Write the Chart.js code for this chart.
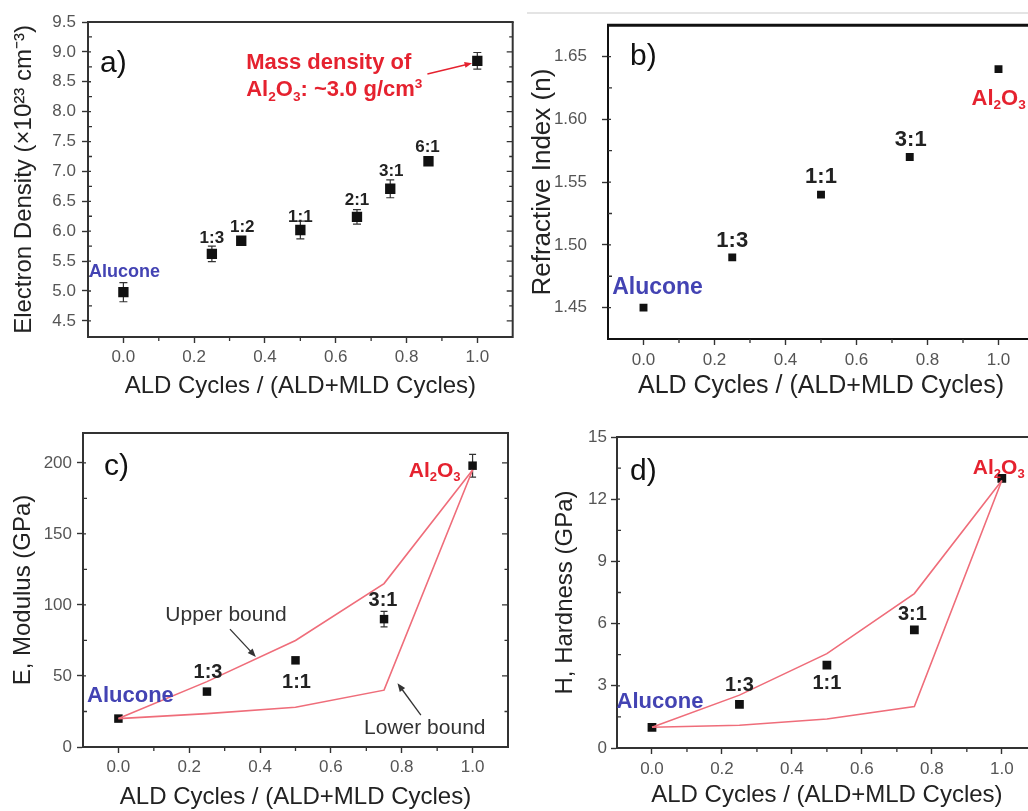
<!DOCTYPE html>
<html><head><meta charset="utf-8">
<script src="https://cdn.jsdelivr.net/npm/chart.js@4"></script>
<style>
html,body{margin:0;padding:0;background:#fff;width:1028px;height:811px;overflow:hidden;position:relative}
#wrap{position:absolute;left:0;top:0;width:1100px;height:830px}
canvas{position:absolute;display:block}
#sep{position:absolute;left:527px;top:12px;width:501px;height:2px;background:#e4e4e4}
</style></head><body>
<div id="wrap">
<div id="sep"></div>
<canvas id="ca" width="520" height="405" style="left:0;top:0;width:520px;height:405px"></canvas>
<canvas id="cb" width="520" height="405" style="left:520px;top:0;width:520px;height:405px"></canvas>
<canvas id="cc" width="520" height="410" style="left:0;top:405px;width:520px;height:410px"></canvas>
<canvas id="cd" width="523" height="410" style="left:520px;top:405px;width:523px;height:410px"></canvas>
</div>
<script>
const FONT = "'Liberation Sans', Arial, sans-serif";

// ---------- shared x axis ----------
const xTicks = [0, 0.2, 0.4, 0.6, 0.8, 1.0];
const xMinorTicks = [0.1, 0.3, 0.5, 0.7, 0.9];
const xTitle = 'ALD Cycles / (ALD+MLD Cycles)';

// ---------- a) electron density ----------
const aRatio = [0, 0.25, 0.333, 0.5, 0.66, 0.754, 0.862, 1.0];
const aDensity = [4.98, 5.62, 5.84, 6.02, 6.24, 6.71, 7.17, 8.85];
const aDensityErr = [0.16, 0.13, 0.05, 0.15, 0.12, 0.15, 0.05, 0.14];
const aNames = ['Alucone', '1:3', '1:2', '1:1', '2:1', '3:1', '6:1', ''];
const aYTicks = [4.5, 5.0, 5.5, 6.0, 6.5, 7.0, 7.5, 8.0, 8.5, 9.0, 9.5];
const aYMinor = [4.75, 5.25, 5.75, 6.25, 6.75, 7.25, 7.75, 8.25, 8.75, 9.25];

// ---------- b) refractive index ----------
const bRatio = [0, 0.25, 0.5, 0.75, 1.0];
const bIndex = [1.45, 1.49, 1.54, 1.57, 1.64];
const bNames = ['Alucone', '1:3', '1:1', '3:1', 'Al2O3'];
const bYTicks = [1.45, 1.50, 1.55, 1.60, 1.65];
const bYMinor = [1.475, 1.525, 1.575, 1.625];

// ---------- c) elastic modulus ----------
const cRatio = [0, 0.25, 0.5, 0.75, 1.0];
const cModulus = [20, 39, 61, 90, 198];
const cModulusErr = [1, 2, 2, 5.5, 8];
const cUpper = [20, 46, 75, 115, 195];
const cLower = [20, 23.5, 28, 40, 195];
const cNames = ['Alucone', '1:3', '1:1', '3:1', 'Al2O3'];
const cYTicks = [0, 50, 100, 150, 200];
const cYMinor = [25, 75, 125, 175];

// ---------- d) hardness ----------
const dRatio = [0, 0.25, 0.5, 0.75, 1.0];
const dHardness = [1.0, 2.1, 4.0, 5.7, 13.0];
const dUpper = [1.0, 2.55, 4.55, 7.45, 12.9];
const dLower = [1.0, 1.1, 1.4, 2.0, 12.9];
const dNames = ['Alucone', '1:3', '1:1', '3:1', 'Al2O3'];
const dYTicks = [0, 3, 6, 9, 12, 15];
const dYMinor = [1.5, 4.5, 7.5, 10.5, 13.5];

// ---------- helpers ----------
const BLUE = '#4343b3', RED = '#e5222f', PINK = '#ef6d7a', INK = '#222';
const AL2O3 = [['Al',0],['2',1],['O',0],['3',1]];

function richText(ctx, parts, x, yMid, size, align, color) {
  ctx.save();
  ctx.fillStyle = color; ctx.textAlign = 'left'; ctx.textBaseline = 'alphabetic';
  const sizes = parts.map(p => p[1] ? size * 0.62 : size);
  const widths = parts.map((p, i) => { ctx.font = `bold ${sizes[i]}px ${FONT}`; return ctx.measureText(p[0]).width; });
  const total = widths.reduce((s, w) => s + w, 0);
  let cx = align === 'right' ? x - total : align === 'center' ? x - total / 2 : x;
  const base = yMid + size * 0.36;
  parts.forEach((p, i) => {
    ctx.font = `bold ${sizes[i]}px ${FONT}`;
    const dy = p[1] === 1 ? size * 0.2 : p[1] === 2 ? -size * 0.36 : 0;
    ctx.fillText(p[0], cx, base + dy);
    cx += widths[i];
  });
  ctx.restore();
}

function arrow(ctx, x0, y0, x1, y1, color, head) {
  ctx.save();
  ctx.strokeStyle = color; ctx.fillStyle = color; ctx.lineWidth = 1.3;
  const ang = Math.atan2(y1 - y0, x1 - x0);
  ctx.beginPath(); ctx.moveTo(x0, y0);
  ctx.lineTo(x1 - Math.cos(ang) * head * 0.8, y1 - Math.sin(ang) * head * 0.8); ctx.stroke();
  ctx.beginPath(); ctx.moveTo(x1, y1);
  ctx.lineTo(x1 - head * Math.cos(ang - 0.38), y1 - head * Math.sin(ang - 0.38));
  ctx.lineTo(x1 - head * Math.cos(ang + 0.38), y1 - head * Math.sin(ang + 0.38));
  ctx.closePath(); ctx.fill();
  ctx.restore();
}

function decoPlugin(d) {
  return {
    id: 'deco',
    beforeDatasetsDraw(chart) {
      if (!d.err) return;
      const {ctx, scales: {x, y}} = chart;
      ctx.save(); ctx.strokeStyle = '#333'; ctx.lineWidth = 1.2;
      d.err.xs.forEach((xv, i) => {
        const e = d.err.e[i]; if (!e) return;
        const X = x.getPixelForValue(xv);
        const Y1 = y.getPixelForValue(d.err.ys[i] - e), Y2 = y.getPixelForValue(d.err.ys[i] + e);
        const c = d.err.cap;
        ctx.beginPath();
        ctx.moveTo(X, Y1); ctx.lineTo(X, Y2);
        ctx.moveTo(X - c, Y1); ctx.lineTo(X + c, Y1);
        ctx.moveTo(X - c, Y2); ctx.lineTo(X + c, Y2);
        ctx.stroke();
      });
      ctx.restore();
    },
    afterDraw(chart) {
      const {ctx, chartArea: a, scales: {x, y}} = chart;
      ctx.save();
      ctx.strokeStyle = d.frameColor; ctx.lineWidth = d.topW;
      ctx.beginPath(); ctx.moveTo(a.left - 1, a.top); ctx.lineTo(a.right + 1, a.top); ctx.stroke();
      ctx.lineWidth = d.axisW;
      ctx.beginPath(); ctx.moveTo(a.right, a.top); ctx.lineTo(a.right, a.bottom + 1); ctx.stroke();
      ctx.strokeStyle = '#333'; ctx.lineWidth = 1.3;
      ctx.beginPath();
      xMinorTicks.forEach(v => { const X = x.getPixelForValue(v); ctx.moveTo(X, a.bottom); ctx.lineTo(X, a.bottom + 4); });
      d.yMinor.forEach(v => { const Y = y.getPixelForValue(v); ctx.moveTo(a.left, Y); ctx.lineTo(a.left + 4, Y); });
      d.yTicks.forEach(v => { const Y = y.getPixelForValue(v); ctx.moveTo(a.left, Y); ctx.lineTo(a.left + 3, Y); });
      ctx.stroke();
      ctx.strokeStyle = d.rightTickColor;
      ctx.beginPath();
      d.yTicks.forEach(v => { const Y = y.getPixelForValue(v); ctx.moveTo(a.right, Y); ctx.lineTo(a.right - 6, Y); });
      d.yMinor.forEach(v => { const Y = y.getPixelForValue(v); ctx.moveTo(a.right, Y); ctx.lineTo(a.right - 3.5, Y); });
      ctx.stroke();
      ctx.fillStyle = '#111'; ctx.font = `30px ${FONT}`; ctx.textAlign = 'left'; ctx.textBaseline = 'alphabetic';
      ctx.fillText(d.letter, a.left + d.letterPos[0], a.top + d.letterPos[1]);
      d.names.forEach((n, i) => {
        if (!n) return;
        const X = x.getPixelForValue(d.xs[i]) + d.offs[i][0];
        const Y = y.getPixelForValue(d.ys[i]) + d.offs[i][1];
        if (n === 'Al2O3') { richText(ctx, AL2O3, X, Y, d.alSize, d.offs[i][2], RED); return; }
        ctx.textAlign = 'center'; ctx.textBaseline = 'middle';
        if (n === 'Alucone') { ctx.font = `bold ${d.aluSize}px ${FONT}`; ctx.fillStyle = BLUE; }
        else { ctx.font = `bold ${d.ratioSize}px ${FONT}`; ctx.fillStyle = INK; }
        ctx.fillText(n, X, Y);
      });
      (d.texts || []).forEach(t => {
        const X = x.getPixelForValue(t.x), Y = y.getPixelForValue(t.y);
        if (t.parts) { richText(ctx, t.parts, X, Y + (t.dy || 0), t.size, t.align, t.color); return; }
        ctx.font = `${t.bold ? 'bold ' : ''}${t.size}px ${FONT}`; ctx.fillStyle = t.color;
        ctx.textAlign = t.align; ctx.textBaseline = 'middle';
        ctx.fillText(t.text, X, Y + (t.dy || 0));
      });
      (d.arrows || []).forEach(r => {
        arrow(ctx, x.getPixelForValue(r[0]), y.getPixelForValue(r[1]), x.getPixelForValue(r[2]), y.getPixelForValue(r[3]), r[4], r[5]);
      });
      ctx.restore();
    }
  };
}

function pts(xs, ys) { return xs.map((v, i) => ({x: v, y: ys[i]})); }

function makeChart(id, p) {
  const datasets = [];
  (p.lines || []).forEach(l => datasets.push({data: pts(p.xs, l), showLine: true, borderColor: PINK, borderWidth: 1.6, pointRadius: 0, fill: false, tension: 0}));
  datasets.push({data: pts(p.xs, p.ys), showLine: false, pointStyle: 'rect', pointRadius: p.r, pointHoverRadius: p.r, backgroundColor: '#111', borderColor: '#111', borderWidth: 0});
  const gridCfg = {display: true, drawOnChartArea: false, drawTicks: true, tickLength: 6, tickColor: '#333', tickWidth: 1.4, color: '#333'};
  return new Chart(document.getElementById(id), {
    type: 'scatter',
    data: {datasets},
    options: {
      responsive: false, animation: false, events: [], devicePixelRatio: 1,
      layout: {padding: {left: 0, top: p.padTop, right: p.padRight, bottom: 0}},
      plugins: {legend: {display: false}, tooltip: {enabled: false}},
      scales: {
        x: {
          type: 'linear', min: -0.1, max: 1.1,
          afterBuildTicks: s => { s.ticks = xTicks.map(v => ({value: v})); },
          afterFit: s => { s.height = p.xH; },
          ticks: {callback: v => Number(v).toFixed(1), font: {family: FONT, size: p.tickSize}, color: '#555', padding: p.xPad, maxRotation: 0, autoSkip: false},
          grid: gridCfg,
          border: {display: true, color: p.frameColor, width: p.axisW},
          title: {display: true, text: xTitle, font: {family: FONT, size: p.xTitleSize}, color: INK, padding: {top: 0, bottom: p.xTitlePad}}
        },
        y: {
          type: 'linear', min: p.yMin, max: p.yMax,
          afterBuildTicks: s => { s.ticks = p.yTicks.map(v => ({value: v})); },
          afterFit: s => { s.width = p.yW; },
          ticks: {callback: v => Number(v).toFixed(p.yDec), font: {family: FONT, size: p.tickSize}, color: '#555', padding: p.yPad, autoSkip: false},
          grid: gridCfg,
          border: {display: true, color: p.frameColor, width: p.axisW},
          title: {display: true, text: p.yTitle, font: {family: FONT, size: p.yTitleSize}, color: INK, padding: {top: p.yTitlePad, bottom: 0}}
        }
      }
    },
    plugins: [decoPlugin({
      xs: p.xs, ys: p.ys, names: p.names, offs: p.offs, err: p.err,
      yTicks: p.yTicks, yMinor: p.yMinor, letter: p.letter, letterPos: p.letterPos,
      frameColor: p.frameColor, topW: p.topW, axisW: p.axisW, rightTickColor: p.rightTickColor || '#333',
      ratioSize: p.ratioSize, aluSize: p.aluSize, alSize: p.alSize, texts: p.texts, arrows: p.arrows
    })]
  });
}

makeChart('ca', {
  xs: aRatio, ys: aDensity, names: aNames, r: 7.3,
  offs: [[1,-20],[0,-16],[1,-13],[0,-13],[0,-17],[1,-17],[-1,-14],[0,0]],
  err: {xs: aRatio, ys: aDensity, e: aDensityErr, cap: 4},
  yMin: 4.23, yMax: 9.5, yTicks: aYTicks, yMinor: aYMinor, yDec: 1,
  yW: 88, xH: 68, padTop: 22, padRight: 7,
  tickSize: 17, xPad: 4, yPad: 6, xTitleSize: 24, xTitlePad: 4, yTitleSize: 24, yTitlePad: 10,
  yTitle: 'Electron Density (×10²³ cm⁻³)',
  frameColor: '#333', topW: 2, axisW: 2,
  letter: 'a)', letterPos: [12, 50],
  ratioSize: 17, aluSize: 18, alSize: 20,
  texts: [
    {x: 0.347, y: 8.81, text: 'Mass density of', size: 22, bold: true, color: RED, align: 'left'},
    {x: 0.347, y: 8.81, dy: 25, parts: [['Al',0],['2',1],['O',0],['3',1],[': ~3.0 g/cm',0],['3',2]], size: 22, color: RED, align: 'left'}
  ],
  arrows: [[0.859, 8.63, 0.985, 8.81, RED, 8]]
});

makeChart('cb', {
  xs: bRatio, ys: bIndex, names: bNames, r: 5.6,
  offs: [[14,-20],[0,-16],[0,-18],[1,-17],[-27,28,'left']],
  yMin: 1.425, yMax: 1.675, yTicks: bYTicks, yMinor: bYMinor, yDec: 2,
  yW: 88, xH: 66, padTop: 23, padRight: 6,
  tickSize: 17, xPad: 5, yPad: 15, xTitleSize: 25, xTitlePad: 4, yTitleSize: 26, yTitlePad: 7,
  yTitle: 'Refractive Index (n)',
  frameColor: '#111', topW: 3, axisW: 2, rightTickColor: '#c8c8c8',
  letter: 'b)', letterPos: [22, 40],
  ratioSize: 22, aluSize: 23, alSize: 22
});

makeChart('cc', {
  xs: cRatio, ys: cModulus, names: cNames, r: 6,
  lines: [cUpper, cLower],
  offs: [[12,-23],[1,-19],[1,22],[-1,-19],[-12,4,'right']],
  err: {xs: cRatio, ys: cModulus, e: cModulusErr, cap: 3.5},
  yMin: 0, yMax: 221, yTicks: cYTicks, yMinor: cYMinor, yDec: 0,
  yW: 83, xH: 68, padTop: 28, padRight: 12,
  tickSize: 17, xPad: 4, yPad: 5, xTitleSize: 24, xTitlePad: 3, yTitleSize: 24, yTitlePad: 9,
  yTitle: 'E, Modulus (GPa)',
  frameColor: '#333', topW: 2, axisW: 2,
  letter: 'c)', letterPos: [21, 42],
  ratioSize: 20, aluSize: 22, alSize: 21,
  texts: [
    {x: 0.304, y: 93, text: 'Upper bound', size: 21, bold: false, color: '#333', align: 'center'},
    {x: 0.865, y: 13.4, text: 'Lower bound', size: 21, bold: false, color: '#333', align: 'center'}
  ],
  arrows: [[0.315, 83, 0.388, 63.4, '#333', 9], [0.854, 22.5, 0.788, 44.9, '#333', 9]]
});

makeChart('cd', {
  xs: dRatio, ys: dHardness, names: dNames, r: 6.2,
  lines: [dUpper, dLower],
  offs: [[8,-25],[0,-19],[0,18],[-2,-15],[-29,-12,'left']],
  yMin: 0, yMax: 15, yTicks: dYTicks, yMinor: dYMinor, yDec: 0,
  yW: 97, xH: 67, padTop: 32, padRight: 6,
  tickSize: 17, xPad: 5, yPad: 4, xTitleSize: 24, xTitlePad: 5, yTitleSize: 24, yTitlePad: 31,
  yTitle: 'H, Hardness (GPa)',
  frameColor: '#333', topW: 2, axisW: 2,
  letter: 'd)', letterPos: [13, 43],
  ratioSize: 20, aluSize: 22, alSize: 21
});
</script>
</body></html>
